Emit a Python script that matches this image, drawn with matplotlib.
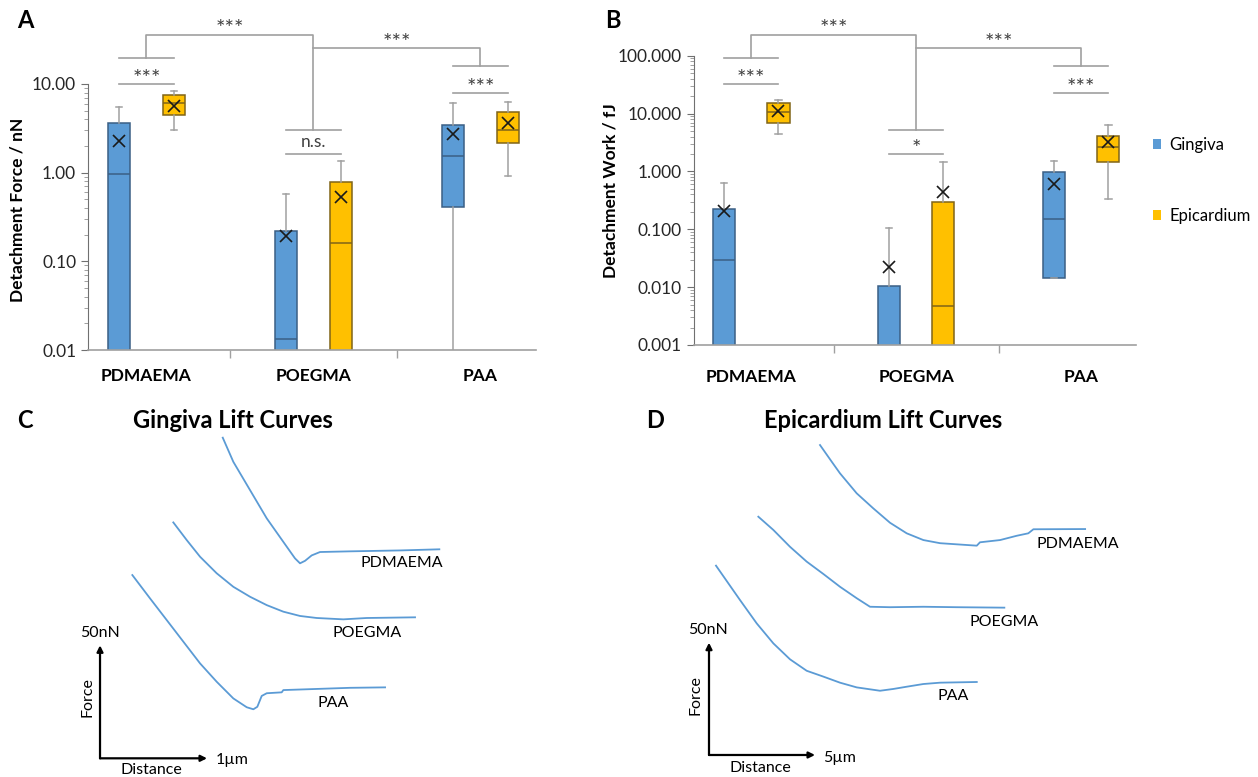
import numpy as np
import matplotlib
matplotlib.use("Agg")
import matplotlib.pyplot as plt
import matplotlib.ticker as mticker
from matplotlib.patches import Patch

plt.rcParams["font.family"] = ["Lato", "DejaVu Sans"]

# ---- data ----
groups = ["PDMAEMA", "POEGMA", "PAA"]
tissues = ["Gingiva", "Epicardium"]

# detachment force / nN (values below 0.01 are off the axis)
force_gin_lo = [0.005, 0.005, 0.005]
force_gin_q1 = [0.005, 0.005, 0.406]
force_gin_med = [0.97, 0.0132, 1.53]
force_gin_q3 = [3.6, 0.22, 3.45]
force_gin_hi = [5.5, 0.574, 6.15]
force_gin_mean = [2.3, 0.193, 2.7]

force_epi_lo = [3.03, 0.005, 0.925]
force_epi_q1 = [4.44, 0.005, 2.14]
force_epi_med = [6.15, 0.161, 3.0]
force_epi_q3 = [7.45, 0.79, 4.87]
force_epi_hi = [8.4, 1.34, 6.27]
force_epi_mean = [5.65, 0.535, 3.6]

# detachment work / fJ (values below 0.001 are off the axis)
work_gin_lo = [0.0005, 0.0005, 0.0146]
work_gin_q1 = [0.0005, 0.0005, 0.0146]
work_gin_med = [0.0294, 0.0005, 0.149]
work_gin_q3 = [0.224, 0.0105, 0.965]
work_gin_hi = [0.638, 0.104, 1.49]
work_gin_mean = [0.21, 0.0226, 0.605]

work_epi_lo = [4.49, 0.0005, 0.333]
work_epi_q1 = [6.86, 0.0005, 1.47]
work_epi_med = [10.8, 0.00465, 2.67]
work_epi_q3 = [15.2, 0.30, 4.04]
work_epi_hi = [17.4, 1.44, 6.25]
work_epi_mean = [11.2, 0.447, 3.27]

sig_force = ["***", "n.s.", "***"]
sig_work = ["***", "*", "***"]
sig_between = ["***", "***"]

# lift curves: distance (um), force (nN)
gin_pdmaema_x = [1.147, 1.246, 1.402, 1.558, 1.713, 1.822, 1.869, 1.916, 1.978, 2.056, 2.336, 2.804, 3.171]
gin_pdmaema_y = [141.9, 131.2, 118.7, 106.2, 95.8, 88.5, 86.3, 87.4, 89.8, 91.3, 91.6, 92.0, 92.5]
gin_poegma_x = [0.685, 0.810, 0.935, 1.090, 1.246, 1.402, 1.558, 1.713, 1.869, 2.025, 2.274, 2.492, 2.944]
gin_poegma_y = [104.4, 96.6, 89.2, 81.9, 75.9, 71.5, 67.8, 64.9, 63.0, 62.1, 61.5, 62.1, 62.4]
gin_paa_x = [0.302, 0.467, 0.623, 0.779, 0.935, 1.090, 1.246, 1.371, 1.433, 1.470, 1.511, 1.558, 1.698, 1.713, 2.025, 2.336, 2.664]
gin_paa_y = [81.1, 70.8, 61.2, 51.6, 42.0, 33.9, 26.5, 22.6, 21.7, 22.8, 27.6, 28.8, 29.2, 30.2, 30.7, 31.2, 31.4]

epi_pdmaema_x = [5.236, 5.787, 6.179, 6.967, 7.75, 8.538, 9.325, 10.11, 10.90, 11.68, 12.63, 12.78, 13.73, 14.51, 15.06, 15.30, 17.74]
epi_pdmaema_y = [138.0, 130.6, 125.4, 116.5, 109.8, 103.4, 98.7, 95.7, 94.3, 93.8, 93.2, 94.7, 95.7, 97.6, 98.7, 100.5, 100.6]
epi_poegma_x = [2.327, 3.035, 3.821, 4.607, 5.393, 6.179, 6.967, 7.594, 8.538, 10.11, 11.68, 13.93]
epi_poegma_y = [106.1, 100.2, 92.7, 86.1, 80.6, 74.9, 69.8, 66.0, 65.8, 66.0, 65.8, 65.6]
epi_paa_x = [0.330, 1.462, 2.25, 3.035, 3.821, 4.607, 5.393, 6.179, 6.967, 8.066, 8.694, 9.325, 10.11, 10.90, 12.63]
epi_paa_y = [84.3, 69.0, 58.6, 49.7, 42.6, 37.5, 34.9, 32.2, 30.1, 28.6, 29.4, 30.4, 31.6, 32.2, 32.5]

blue = "#5b9bd5"
yellow = "#ffc000"
gray = "#a0a0a0"
W, H = 1258, 777

fig = plt.figure(figsize=(W / 100, H / 100), dpi=100)


def px_axes(left, top, right, bottom):
    return fig.add_axes([left / W, 1 - bottom / H, (right - left) / W, (bottom - top) / H])


def make_stats(lo, q1, med, q3, hi, mean):
    return [dict(whislo=a, q1=b, med=c, q3=d, whishi=e, mean=f, fliers=[])
            for a, b, c, d, e, f in zip(lo, q1, med, q3, hi, mean)]


def box_panel(ax, gin, epi, ylim, fmt, pad):
    pos = np.arange(len(groups))
    for stats, off, fc, ec in [(gin, -0.165, blue, "#3b5f85"), (epi, 0.165, yellow, "#806418")]:
        ax.bxp(stats, positions=pos + off, widths=0.135, patch_artist=True, showmeans=True,
               capwidths=0.04,
               boxprops=dict(facecolor=fc, edgecolor=ec, linewidth=1.1),
               medianprops=dict(color=ec, linewidth=1.1),
               whiskerprops=dict(color=gray, linewidth=1.1),
               capprops=dict(color=gray, linewidth=1.1),
               meanprops=dict(marker="x", markeredgecolor="#1a1a1a", markersize=8, markeredgewidth=1.2))
    ax.set_yscale("log")
    ax.set_ylim(*ylim)
    ax.set_xlim(-0.35, 2.33)
    ax.yaxis.set_major_locator(mticker.LogLocator(base=10))
    ax.yaxis.set_major_formatter(mticker.FuncFormatter(lambda v, p: fmt.format(v)))
    ax.yaxis.set_minor_locator(mticker.LogLocator(base=10, subs=np.arange(2, 10)))
    ax.yaxis.set_minor_formatter(mticker.NullFormatter())
    ax.set_xticks(pos)
    ax.set_xticklabels(groups, fontsize=12.5, fontweight="bold")
    ax.set_xticks([0.5, 1.5], minor=True)
    ax.tick_params(axis="x", which="major", length=0, pad=pad)
    ax.tick_params(axis="x", which="minor", length=6, color=gray, width=1)
    ax.tick_params(axis="y", which="major", length=5, color="#707070", labelsize=12.5, labelcolor="#262626")
    ax.tick_params(axis="y", which="minor", length=3, color="#909090")
    for s in ["top", "right"]:
        ax.spines[s].set_visible(False)
    ax.spines["left"].set_color("#707070")
    ax.spines["bottom"].set_color(gray)
    ax.spines["bottom"].set_linewidth(1.2)


def sig_text(ax, x, y, s):
    tr = ax.get_xaxis_transform()
    if "*" in s:
        ax.text(x, y, s, transform=tr, ha="center", va="baseline", fontsize=16, color="#404040")
    else:
        ax.text(x, y, s, transform=tr, ha="center", va="baseline", fontsize=12.5, color="#404040")


def brackets(ax, ybot, h, sig_within):
    # pixel rows of the bracket layout turned into axes fractions
    f = lambda py: (ybot - py) / h
    tr = ax.get_xaxis_transform()
    kw = dict(color=gray, linewidth=1.2, transform=tr, clip_on=False)
    inner = [84, 154, 93]
    outer = [58, 130, 66]
    for i, s in enumerate(sig_within):
        ax.plot([i - 0.165, i + 0.165], [f(inner[i])] * 2, **kw)
        ax.plot([i - 0.165, i + 0.165], [f(outer[i])] * 2, **kw)
        base = inner[i] + 1 if "*" in s else inner[i] - 7
        sig_text(ax, i, f(base), s)
    ax.plot([0, 0, 1, 1], [f(outer[0]), f(35), f(35), f(outer[1])], **kw)
    ax.plot([1, 2, 2], [f(48), f(48), f(outer[2])], **kw)
    sig_text(ax, 0.5, f(35), sig_between[0])
    sig_text(ax, 1.5, f(49), sig_between[1])


# ---- panel A ----
axA = px_axes(88, 84, 535.6, 350)
box_panel(axA,
          make_stats(force_gin_lo, force_gin_q1, force_gin_med, force_gin_q3, force_gin_hi, force_gin_mean),
          make_stats(force_epi_lo, force_epi_q1, force_epi_med, force_epi_q3, force_epi_hi, force_epi_mean),
          (0.01, 10), "{:.2f}", 13)
brackets(axA, 350, 266, sig_force)
fig.text(18 / W, 1 - 210 / H, "Detachment Force / nN", rotation=90, ha="center", va="center",
         fontsize=12.5, fontweight="bold")

# ---- panel B ----
axB = px_axes(693.5, 55.7, 1135.5, 345)
box_panel(axB,
          make_stats(work_gin_lo, work_gin_q1, work_gin_med, work_gin_q3, work_gin_hi, work_gin_mean),
          make_stats(work_epi_lo, work_epi_q1, work_epi_med, work_epi_q3, work_epi_hi, work_epi_mean),
          (0.001, 100), "{:.3f}", 17)
brackets(axB, 345, 289.3, sig_work)
fig.text(611 / W, 1 - 191 / H, "Detachment Work / fJ", rotation=90, ha="center", va="center",
         fontsize=12.5, fontweight="bold")

fig.legend(handles=[Patch(facecolor=blue, label=tissues[0]), Patch(facecolor=yellow, label=tissues[1])],
           loc="upper left", bbox_to_anchor=(1153 / W, 1 - 137 / H), frameon=False,
           handlelength=0.5, handleheight=0.6, handletextpad=0.5, labelspacing=3.3,
           fontsize=12, borderpad=0, borderaxespad=0)


# ---- panels C and D ----
def lift_panel(ax, curves, xbar):
    for (x, y, name, lx, ly) in curves:
        ax.plot(x, y, color=blue, linewidth=1.3)
        ax.text(lx, ly, name, ha="center", va="center", fontsize=11.5)
    arrow = dict(arrowstyle="-|>", color="k", lw=1.6, mutation_scale=9, shrinkA=0, shrinkB=0)
    ax.annotate("", xy=(0, 50), xytext=(0, 0), arrowprops=arrow)
    ax.annotate("", xy=(xbar, 0), xytext=(0, 0), arrowprops=arrow)
    ax.axis("off")


axC = px_axes(60, 430, 500, 777)
axC.set_xlim(-0.374, 3.738)
axC.set_ylim(-8.27, 145.3)
lift_panel(axC, [
    (gin_pdmaema_x, gin_pdmaema_y, "PDMAEMA", 2.82, 86.3),
    (gin_poegma_x, gin_poegma_y, "POEGMA", 2.50, 55.6),
    (gin_paa_x, gin_paa_y, "PAA", 2.18, 24.3),
], 1.0)
axC.text(0, 55.6, "50nN", ha="center", va="center", fontsize=11.5)
axC.text(-0.119, 27.3, "Force", rotation=90, ha="center", va="center", fontsize=11.5)
axC.text(0.477, -5.2, "Distance", ha="center", va="center", fontsize=11.5)
axC.text(1.23, -0.8, "1µm", ha="center", va="center", fontsize=11.5)

axD = px_axes(660, 430, 1150, 777)
axD.set_xlim(-2.311, 20.80)
axD.set_ylim(-9.80, 144.7)
lift_panel(axD, [
    (epi_pdmaema_x, epi_pdmaema_y, "PDMAEMA", 17.39, 93.9),
    (epi_poegma_x, epi_poegma_y, "POEGMA", 13.92, 59.4),
    (epi_paa_x, epi_paa_y, "PAA", 11.52, 26.3),
], 5.0)
axD.text(-0.03, 55.7, "50nN", ha="center", va="center", fontsize=11.5)
axD.text(-0.66, 26.7, "Force", rotation=90, ha="center", va="center", fontsize=11.5)
axD.text(2.41, -5.9, "Distance", ha="center", va="center", fontsize=11.5)
axD.text(6.18, -1.2, "5µm", ha="center", va="center", fontsize=11.5)

# panel letters and titles
for (x, y, s) in [(25, 21, "A"), (613, 21, "B"), (25, 421, "C"), (655, 420, "D")]:
    fig.text(x / W, 1 - y / H, s, ha="center", va="center", fontsize=17, fontweight="bold")
fig.text(233 / W, 1 - 421 / H, "Gingiva Lift Curves", ha="center", va="center", fontsize=17, fontweight="bold")
fig.text(883 / W, 1 - 420 / H, "Epicardium Lift Curves", ha="center", va="center", fontsize=17, fontweight="bold")

fig.savefig("out.png", dpi=100)
